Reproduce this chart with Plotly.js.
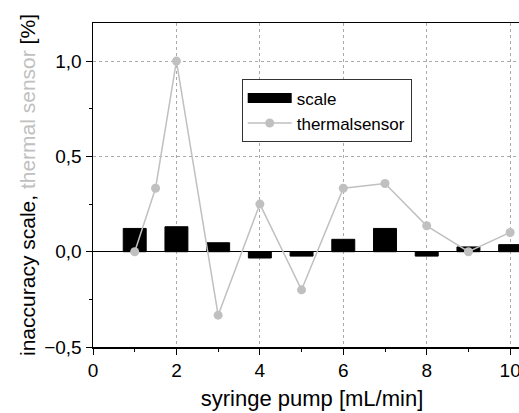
<!DOCTYPE html>
<html>
<head>
<meta charset="utf-8">
<script src="https://cdn.plot.ly/plotly-3.0.1.min.js"></script>
<style>html,body{margin:0;padding:0;overflow:hidden;background:#fff;}</style>
</head>
<body>
<div id="chart"></div>
<script>
// Data
const scaleX = [1, 2, 3, 4, 5, 6, 7, 8, 9, 10];
const scaleY = [0.122, 0.131, 0.047, -0.033, -0.023, 0.065, 0.122, -0.023, 0.025, 0.037];
const thermX = [1, 1.5, 2, 3, 4, 5, 6, 7, 8, 9, 10];
const thermY = [0, 0.333, 1.0, -0.333, 0.25, -0.2, 0.333, 0.358, 0.136, 0, 0.101];
const xTicks = [0, 2, 4, 6, 8, 10];
const yTicks = [-0.5, 0, 0.5, 1.0];

const FONT = 'Arial, "Liberation Sans", sans-serif';
const GRAY = '#c0c0c0';

const traces = [
  {
    type: 'bar', x: scaleX, y: scaleY, name: 'scale', showlegend: false,
    width: 0.55,
    marker: {color: '#000', line: {color: '#000', width: 1}}
  },
  {
    type: 'scatter', mode: 'lines', x: [null], y: [null], name: 'scale',
    line: {color: '#000', width: 15}, hoverinfo: 'skip'
  },
  {
    type: 'scatter', mode: 'lines+markers', x: thermX, y: thermY, name: 'thermalsensor',
    line: {color: GRAY, width: 1.5},
    marker: {color: GRAY, size: 9}
  }
];

const layout = {
  width: 560, height: 413,
  margin: {l: 93, r: 29, t: 23, b: 66},
  paper_bgcolor: '#fff', plot_bgcolor: '#fff',
  separators: ',.',
  font: {family: FONT, color: '#000', size: 19},
  xaxis: {
    range: [0, 10.5], tickvals: xTicks, ticktext: xTicks.map(String),
    ticks: 'outside', ticklen: 6, tickwidth: 1, tickcolor: '#000',
    showline: true, linecolor: '#000', linewidth: 1.5, mirror: true,
    showgrid: true, gridcolor: '#aaa', griddash: 'dot', gridwidth: 1,
    zeroline: false,
    minor: {dtick: 1, tick0: 0, ticks: 'outside', ticklen: 3, tickcolor: '#000', showgrid: false},
    tickfont: {size: 19},
    title: {text: 'syringe pump [mL/min]', font: {size: 22}, standoff: 10}
  },
  yaxis: {
    range: [-0.5, 1.2], tickvals: yTicks, tickformat: '.1f',
    ticks: 'outside', ticklen: 6, tickwidth: 1, tickcolor: '#000',
    showline: true, linecolor: '#000', linewidth: 1.5, mirror: true,
    showgrid: true, gridcolor: '#aaa', griddash: 'dot', gridwidth: 1,
    zeroline: true, zerolinecolor: '#000', zerolinewidth: 1.5,
    minor: {dtick: 0.25, tick0: 0, ticks: 'outside', ticklen: 3, tickcolor: '#000', showgrid: false},
    tickfont: {size: 19},
    title: {text: 'inaccuracy scale, <span style="color:#c0c0c0">thermal sensor</span> [%]', font: {size: 21}, standoff: 3}
  },
  showlegend: true,
  legend: {
    x: 0.3395, y: 0.826, xanchor: 'left', yanchor: 'top',
    bgcolor: '#fff', bordercolor: '#333', borderwidth: 1,
    font: {size: 17, family: FONT},
    itemwidth: 44, tracegroupgap: 0
  }
};

Plotly.newPlot('chart', traces, layout, {displayModeBar: false, staticPlot: true});
</script>
</body>
</html>
